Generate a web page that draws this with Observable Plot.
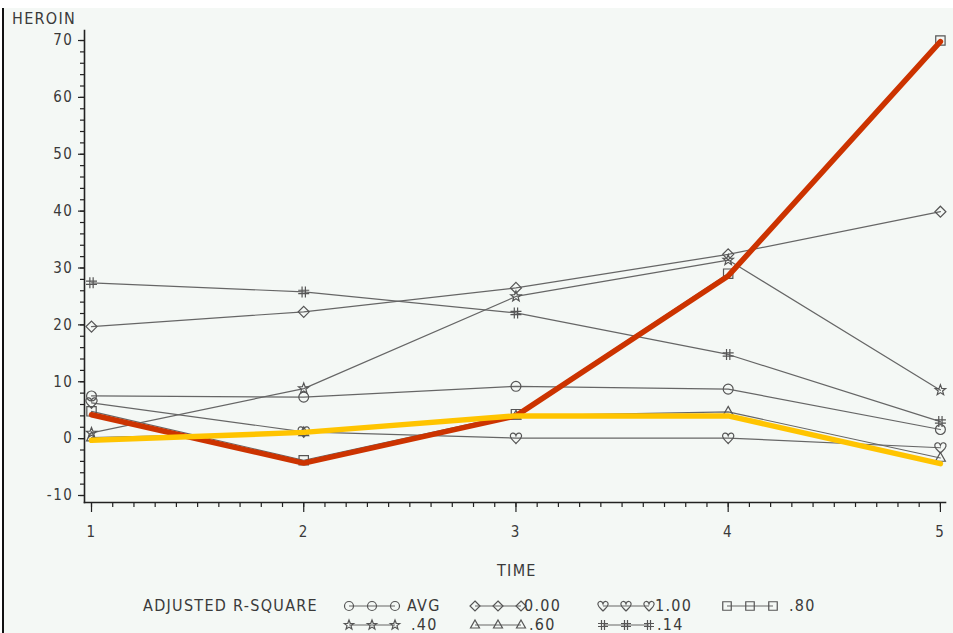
<!DOCTYPE html>
<html>
<head>
<meta charset="utf-8">
<script src="https://cdn.jsdelivr.net/npm/d3@7"></script>
<script src="https://cdn.jsdelivr.net/npm/@observablehq/plot@0.6"></script>
<style>
  html, body { margin: 0; padding: 0; background: #ffffff; }
  #wrap { position: relative; width: 953px; height: 633px; overflow: hidden; background: #ffffff; }
  #panel { position: absolute; left: 2px; top: 8px; width: 951px; height: 625px; background: #f4f8f5; border-left: 2px solid #111; box-sizing: border-box; }
  #chart { position: absolute; left: 0; top: 0; }
  .lbl { position: absolute; font-family: 'Liberation Sans Narrow', 'DejaVu Sans Condensed', sans-serif; color: #3a3a3a; font-size: 16px; letter-spacing: 1.3px; line-height: 1; white-space: nowrap; }
  svg text { letter-spacing: 1.6px; }
</style>
</head>
<body>
<div id="wrap"><div id="panel"></div><div id="chart"></div></div>
<script>
// ---- data ----
const time = [1, 2, 3, 4, 5];
const seriesKeys = ["AVG", "0.00", "1.00", ".80", ".40", ".60", ".14"];
const avgValues  = [7.5, 7.3, 9.2, 8.7, 1.6];
const r000Values = [19.7, 22.3, 26.5, 32.4, 39.9];
const r100Values = [6.3, 1.2, 0.1, 0.1, -1.6];
const r080Values = [4.8, -3.8, 4.3, 29.0, 70.0];
const r040Values = [1.0, 8.8, 25.0, 31.4, 8.5];
const r060Values = [0.2, 1.1, 4.0, 4.7, -3.4];
const r014Values = [27.4, 25.8, 22.1, 14.8, 3.0];
const redHighlight    = [4.2, -4.3, 4.0, 28.6, 69.8];
const yellowHighlight = [-0.3, 1.1, 4.0, 4.0, -4.4];
const yTicks = [-10, 0, 10, 20, 30, 40, 50, 60, 70];
const xTicks = [1, 2, 3, 4, 5];

// ---- custom symbols ----
const heart = { draw(ctx, size) { const r = Math.sqrt(size / Math.PI);
  ctx.moveTo(0, -0.45 * r);
  ctx.bezierCurveTo(-0.2 * r, -1.15 * r, -1.15 * r, -1.0 * r, -1.0 * r, -0.25 * r);
  ctx.bezierCurveTo(-0.9 * r, 0.25 * r, -0.3 * r, 0.6 * r, 0, r);
  ctx.bezierCurveTo(0.3 * r, 0.6 * r, 0.9 * r, 0.25 * r, 1.0 * r, -0.25 * r);
  ctx.bezierCurveTo(1.15 * r, -1.0 * r, 0.2 * r, -1.15 * r, 0, -0.45 * r);
  ctx.closePath(); } };
const hash = { draw(ctx, size) { const r = Math.sqrt(size / Math.PI); const a = 0.3 * r;
  ctx.moveTo(-a, -r); ctx.lineTo(-a, r); ctx.moveTo(a, -r); ctx.lineTo(a, r);
  ctx.moveTo(-r, -a); ctx.lineTo(r, -a); ctx.moveTo(-r, a); ctx.lineTo(r, a); } };
const star = { draw(ctx, size) { const r = Math.sqrt(size / Math.PI);
  for (let i = 0; i < 10; i++) { const ang = -Math.PI / 2 + i * Math.PI / 5; const rr = i % 2 ? r * 0.42 : r;
    const px = rr * Math.cos(ang), py = rr * Math.sin(ang); i ? ctx.lineTo(px, py) : ctx.moveTo(px, py); }
  ctx.closePath(); } };
const tri = { draw(ctx, size) { const r = Math.sqrt(size / Math.PI);
  ctx.moveTo(0, -r); ctx.lineTo(r * 0.9, r * 0.6); ctx.lineTo(-r * 0.9, r * 0.6); ctx.closePath(); } };
const diamond = { draw(ctx, size) { const r = Math.sqrt(size / Math.PI);
  ctx.moveTo(0, -r); ctx.lineTo(r, 0); ctx.lineTo(0, r); ctx.lineTo(-r, 0); ctx.closePath(); } };
const square = { draw(ctx, size) { const r = Math.sqrt(size / Math.PI) * 0.85; ctx.rect(-r, -r, 2 * r, 2 * r); } };
const circle = { draw(ctx, size) { const r = Math.sqrt(size / Math.PI) * 0.9; ctx.moveTo(r, 0); ctx.arc(0, 0, r, 0, 2 * Math.PI); } };

const seriesDefs = [
  { key: "AVG",  values: avgValues,  symbol: circle },
  { key: "0.00", values: r000Values, symbol: diamond },
  { key: "1.00", values: r100Values, symbol: heart },
  { key: ".80",  values: r080Values, symbol: square },
  { key: ".40",  values: r040Values, symbol: star },
  { key: ".60",  values: r060Values, symbol: tri },
  { key: ".14",  values: r014Values, symbol: hash }
];
const rows = seriesDefs.flatMap(s => time.map((t, i) => ({ series: s.key, time: t, value: s.values[i], symbol: s.symbol })));
const redRows = time.map((t, i) => ({ time: t, value: redHighlight[i] }));
const yellowRows = time.map((t, i) => ({ time: t, value: yellowHighlight[i] }));

const gray = "#666666";
const fmt = d => d < 0 ? "-" + Math.abs(d) : String(d);

const chart = Plot.plot({
  width: 953, height: 585,
  marginLeft: 84, marginRight: 8, marginTop: 30, marginBottom: 83,
  style: { background: "transparent", fontFamily: "'Liberation Sans Narrow', 'DejaVu Sans Condensed', sans-serif", fontSize: "15px", color: "#3a3a3a" },
  x: { domain: [0.967, 5.024], label: null },
  y: { domain: [-11.23, 71.76], label: null },
  marks: [
    Plot.axisX(d3.range(10, 51).map(v => v / 10), { tickSize: 5, tickFormat: () => "", stroke: "#222", strokeWidth: 1.2 }),
    Plot.axisX(xTicks, { tickSize: 10, tickPadding: 14, tickFormat: fmt, stroke: "#222", strokeWidth: 1.2, fontSize: 15 }),
    Plot.axisY(d3.range(-10, 71, 2), { tickSize: 4, tickFormat: () => "", stroke: "#222", strokeWidth: 1.2 }),
    Plot.axisY(yTicks, { tickSize: 6, tickPadding: 5, tickFormat: fmt, stroke: "#222", strokeWidth: 1.2, fontSize: 15 }),
    Plot.frame({ anchor: "left", stroke: "#222", strokeWidth: 1.6 }),
    Plot.frame({ anchor: "bottom", stroke: "#222", strokeWidth: 1.6 }),
    Plot.line(rows, { x: "time", y: "value", z: "series", stroke: gray, strokeWidth: 1.2 }),
    Plot.dot(rows, { x: "time", y: "value", symbol: "symbol", r: 5.5, stroke: "#555", strokeWidth: 1.2, fill: "none" }),
    Plot.line(redRows, { x: "time", y: "value", stroke: "#cc3300", strokeWidth: 5.5, strokeLinejoin: "miter" }),
    Plot.line(yellowRows, { x: "time", y: "value", stroke: "#ffc400", strokeWidth: 5.5, strokeLinejoin: "miter" })
  ]
});
document.getElementById("chart").appendChild(chart);

// ---- titles and legend (HTML) ----
const wrap = document.getElementById("wrap");
function addText(txt, left, top, size) {
  const d = document.createElement("div"); d.className = "lbl"; d.textContent = txt;
  d.style.left = left + "px"; d.style.top = top + "px"; if (size) d.style.fontSize = size + "px";
  wrap.appendChild(d); return d;
}
addText("HEROIN", 12, 11, 16);
addText("TIME", 497, 563, 16);
addText("ADJUSTED R-SQUARE", 143, 598, 16);

const legendItems = [
  { key: "AVG",  symbol: circle,  x: 349, y: 606, tx: 407 },
  { key: "0.00", symbol: diamond, x: 475, y: 606, tx: 524 },
  { key: "1.00", symbol: heart,   x: 603, y: 606, tx: 655 },
  { key: ".80",  symbol: square,  x: 727, y: 606, tx: 789 },
  { key: ".40",  symbol: star,    x: 349, y: 625, tx: 411 },
  { key: ".60",  symbol: tri,     x: 475, y: 625, tx: 529 },
  { key: ".14",  symbol: hash,    x: 603, y: 625, tx: 657 }
];
const svgL = d3.select(wrap).append("svg").attr("width", 953).attr("height", 633)
  .style("position", "absolute").style("left", 0).style("top", 0).style("pointer-events", "none");
for (const it of legendItems) {
  svgL.append("line").attr("x1", it.x).attr("x2", it.x + 46).attr("y1", it.y).attr("y2", it.y)
    .attr("stroke", gray).attr("stroke-width", 1.2);
  for (let k = 0; k < 3; k++) {
    svgL.append("path").attr("d", d3.symbol(it.symbol, Math.PI * 5 * 5)())
      .attr("transform", `translate(${it.x + k * 23},${it.y})`)
      .attr("fill", "none").attr("stroke", "#555").attr("stroke-width", 1.2);
  }
  addText(it.key, it.tx, it.y - 8, 16);
}
</script>
</body>
</html>
